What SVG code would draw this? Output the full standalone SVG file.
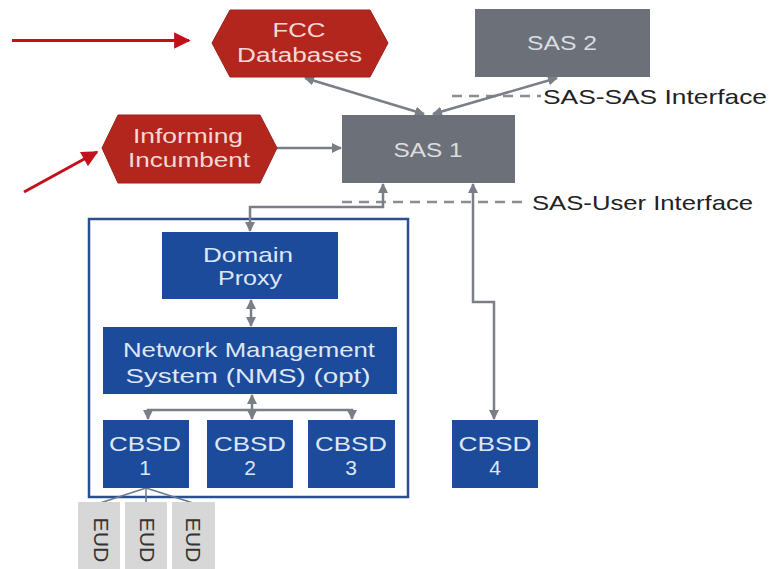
<svg xmlns="http://www.w3.org/2000/svg" width="770" height="569" viewBox="0 0 770 569">
  <defs>
    <marker id="ah" viewBox="0 0 10 10" refX="9" refY="5" markerWidth="4" markerHeight="4" orient="auto-start-reverse" markerUnits="strokeWidth">
      <path d="M0,0 L10,5 L0,10 z" fill="#7a7f87"/>
    </marker>
    <marker id="ahRed" viewBox="0 0 10 10" refX="9" refY="5" markerWidth="8" markerHeight="5.5" orient="auto" markerUnits="strokeWidth">
      <path d="M0,0 L10,5 L0,10 z" fill="#c1121c"/>
    </marker>
    <style>
      .hex { fill: #b3261e; stroke: #9e1f18; stroke-width: 1; }
      .sas { fill: #6c7079; }
      .blue { fill: #1d4b9c; }
      .eud { fill: #d7d7d7; }
      .t { font-family: "Liberation Sans", Arial, sans-serif; text-anchor: middle; }
      .tHex { fill: #f3d9d6; font-size: 20px; }
      .tSas { fill: #dcdde0; font-size: 21px; }
      .tBlue { fill: #dfe7f6; font-size: 21px; }
      .tLbl { font-family: "Liberation Sans", Arial, sans-serif; fill: #222; font-size: 21px; }
      .tEud { fill: #333; font-size: 21px; }
      .conn { fill: none; stroke: #7a7f87; stroke-width: 2.5; }
      .dash { fill: none; stroke: #8a8d92; stroke-width: 2.5; stroke-dasharray: 10 7; }
      .red { fill: none; stroke: #c1121c; stroke-width: 3; }
    </style>
  </defs>
  <rect width="770" height="569" fill="#ffffff"/>

  <!-- dashed interface lines and labels -->
  <g id="interfaces">
    <line class="dash" x1="452" y1="96" x2="541" y2="96"/>
    <text class="tLbl" x="543" y="104" textLength="224" lengthAdjust="spacingAndGlyphs">SAS-SAS Interface</text>
    <line class="dash" x1="342" y1="202" x2="522" y2="202"/>
    <text class="tLbl" x="532" y="210" textLength="221" lengthAdjust="spacingAndGlyphs">SAS-User Interface</text>
  </g>

  <!-- system container -->
  <g id="container">
    <rect x="89" y="219" width="319" height="278" fill="#ffffff" stroke="#2b4f8e" stroke-width="2.5"/>
  </g>

  <!-- connectors -->
  <g id="connectors">
    <line class="conn" x1="424" y1="114" x2="305" y2="78" marker-start="url(#ah)" marker-end="url(#ah)"/>
    <line class="conn" x1="433" y1="114" x2="557" y2="78" marker-start="url(#ah)" marker-end="url(#ah)"/>
    <line class="conn" x1="277" y1="148" x2="341" y2="148" marker-end="url(#ah)"/>
    <path class="conn" d="M383,184 V207 H250 V231" marker-start="url(#ah)" marker-end="url(#ah)"/>
    <path class="conn" d="M473,184 V302 H494 V419" marker-start="url(#ah)" marker-end="url(#ah)"/>
    <line class="conn" x1="251" y1="300" x2="251" y2="326" marker-start="url(#ah)" marker-end="url(#ah)"/>
    <line class="conn" x1="252" y1="395" x2="252" y2="419" marker-start="url(#ah)" marker-end="url(#ah)"/>
    <path class="conn" d="M148,419 V410 H352 V419" marker-start="url(#ah)" marker-end="url(#ah)"/>
    <g stroke="#6a7a90" stroke-width="1.5" fill="none">
      <line x1="146" y1="488" x2="100" y2="503"/>
      <line x1="146" y1="488" x2="146" y2="503"/>
      <line x1="146" y1="488" x2="193" y2="503"/>
    </g>
    <line class="red" x1="12" y1="40.5" x2="189" y2="40.5" marker-end="url(#ahRed)"/>
    <line class="red" x1="24" y1="192" x2="97" y2="152" marker-end="url(#ahRed)"/>
  </g>

  <g id="fcc">
    <polygon class="hex" points="212,43 230,10 370,10 388,43 370,77 230,77"/>
    <text class="t tHex" x="299" y="37" textLength="53" lengthAdjust="spacingAndGlyphs">FCC</text>
    <text class="t tHex" x="299.5" y="62" textLength="125" lengthAdjust="spacingAndGlyphs">Databases</text>
  </g>

  <g id="incumbent">
    <polygon class="hex" points="102,148 118,115 260,115 277,148 260,183 118,183"/>
    <text class="t tHex" x="188" y="143" textLength="110" lengthAdjust="spacingAndGlyphs">Informing</text>
    <text class="t tHex" x="189" y="167" textLength="122" lengthAdjust="spacingAndGlyphs">Incumbent</text>
  </g>

  <g id="sas2">
    <rect class="sas" x="475" y="9" width="175" height="68"/>
    <text class="t tSas" x="562" y="50" textLength="70" lengthAdjust="spacingAndGlyphs">SAS 2</text>
  </g>

  <g id="sas1">
    <rect class="sas" x="342" y="115" width="173" height="68"/>
    <text class="t tSas" x="428" y="157" textLength="69" lengthAdjust="spacingAndGlyphs">SAS 1</text>
  </g>

  <g id="domain-proxy">
    <rect class="blue" x="162" y="232" width="176" height="67"/>
    <text class="t tBlue" x="248" y="262" textLength="90" lengthAdjust="spacingAndGlyphs">Domain</text>
    <text class="t tBlue" x="250" y="285" textLength="64" lengthAdjust="spacingAndGlyphs">Proxy</text>
  </g>

  <g id="nms">
    <rect class="blue" x="103" y="327" width="294" height="67"/>
    <text class="t tBlue" x="249" y="357" textLength="252" lengthAdjust="spacingAndGlyphs">Network Management</text>
    <text class="t tBlue" x="248" y="383" textLength="245" lengthAdjust="spacingAndGlyphs">System (NMS) (opt)</text>
  </g>

  <g id="cbsd1">
    <rect class="blue" x="103" y="420" width="86" height="68"/>
    <text class="t tBlue" x="145" y="451" textLength="72" lengthAdjust="spacingAndGlyphs">CBSD</text>
    <text class="t tBlue" x="145" y="475">1</text>
  </g>
  <g id="cbsd2">
    <rect class="blue" x="207" y="420" width="86" height="68"/>
    <text class="t tBlue" x="250" y="451" textLength="72" lengthAdjust="spacingAndGlyphs">CBSD</text>
    <text class="t tBlue" x="250" y="475">2</text>
  </g>
  <g id="cbsd3">
    <rect class="blue" x="308" y="420" width="87" height="68"/>
    <text class="t tBlue" x="351" y="451" textLength="72" lengthAdjust="spacingAndGlyphs">CBSD</text>
    <text class="t tBlue" x="351" y="475">3</text>
  </g>
  <g id="cbsd4">
    <rect class="blue" x="452" y="420" width="86" height="68"/>
    <text class="t tBlue" x="495" y="451" textLength="73" lengthAdjust="spacingAndGlyphs">CBSD</text>
    <text class="t tBlue" x="495" y="475">4</text>
  </g>

  <g id="eud1">
    <rect class="eud" x="78" y="502" width="42" height="67"/>
    <text class="t tEud" transform="translate(94,540) rotate(90)" textLength="45" lengthAdjust="spacingAndGlyphs">EUD</text>
  </g>
  <g id="eud2">
    <rect class="eud" x="125" y="502" width="42" height="67"/>
    <text class="t tEud" transform="translate(140,540) rotate(90)" textLength="45" lengthAdjust="spacingAndGlyphs">EUD</text>
  </g>
  <g id="eud3">
    <rect class="eud" x="172" y="502" width="43" height="67"/>
    <text class="t tEud" transform="translate(186,540) rotate(90)" textLength="45" lengthAdjust="spacingAndGlyphs">EUD</text>
  </g>
</svg>
